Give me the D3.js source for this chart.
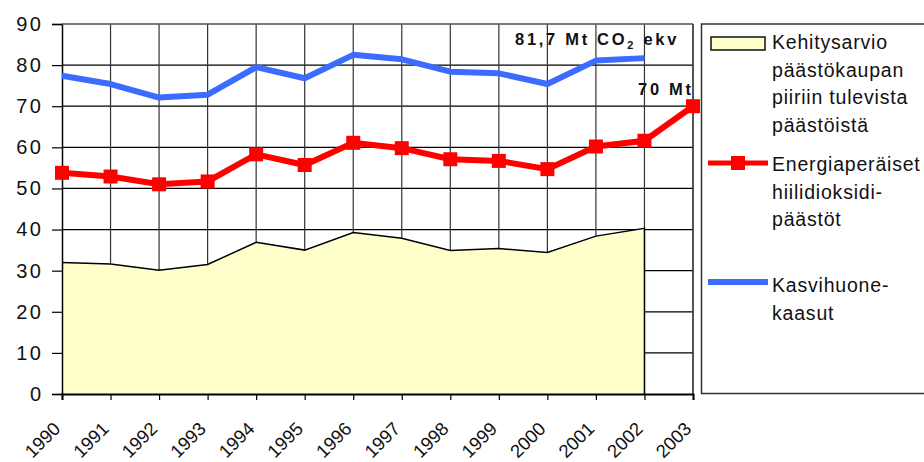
<!DOCTYPE html>
<html>
<head>
<meta charset="utf-8">
<script src="https://cdn.jsdelivr.net/npm/d3@7"></script>
<style>
  body { margin: 0; background: #fff; }
  svg { display: block; font-family: "Liberation Sans", Arial, sans-serif; }
</style>
</head>
<body>
<div id="chart"></div>
<script>
var years = [1990, 1991, 1992, 1993, 1994, 1995, 1996, 1997, 1998, 1999, 2000, 2001, 2002, 2003];
// emission trading scope estimate (area), 1990-2002
var kehitys = [32.0, 31.6, 30.1, 31.5, 36.9, 35.0, 39.3, 37.9, 34.9, 35.4, 34.4, 38.4, 40.3];
// energy CO2 (red, with markers), 1990-2003
var energia = [53.8, 52.9, 51.0, 51.7, 58.3, 55.7, 61.1, 59.8, 57.1, 56.7, 54.7, 60.2, 61.6, 70];
// greenhouse gases (blue), 1990-2002
var kasvihuone = [77.4, 75.4, 72.1, 72.8, 79.5, 76.8, 82.5, 81.4, 78.4, 78.0, 75.4, 81.1, 81.7];
var yTicks = [0, 10, 20, 30, 40, 50, 60, 70, 80, 90];

var W = 924, H = 462;
var plotL = 62, plotR = 693, plotT = 24, plotB = 394;

var svg = d3.select("#chart").append("svg")
    .attr("width", W)
    .attr("height", H);

var x = d3.scaleLinear().domain([1990, 2003]).range([plotL, plotR]);
var y = d3.scaleLinear().domain([0, 90]).range([plotB, plotT]);

// gridlines
svg.append("g").selectAll("line")
    .data(yTicks.slice(1))
    .enter().append("line")
    .attr("x1", plotL).attr("x2", plotR)
    .attr("y1", function(d) { return y(d); })
    .attr("y2", function(d) { return y(d); })
    .attr("stroke", "#000").attr("stroke-width", 1.2);

svg.append("g").selectAll("line")
    .data(years.slice(1))
    .enter().append("line")
    .attr("x1", function(d) { return x(d); })
    .attr("x2", function(d) { return x(d); })
    .attr("y1", plotT).attr("y2", plotB)
    .attr("stroke", "#333").attr("stroke-width", 1.2);

// area
var areaData = kehitys.map(function(v, i) { return [years[i], v]; });
svg.append("path")
    .datum(areaData)
    .attr("fill", "#ffffcc")
    .attr("d", d3.area()
        .x(function(d) { return x(d[0]); })
        .y0(y(0))
        .y1(function(d) { return y(d[1]); }));

svg.append("path")
    .datum(areaData)
    .attr("fill", "none")
    .attr("stroke", "#000")
    .attr("stroke-width", 1.5)
    .attr("d", function(d) {
        var last = d[d.length - 1];
        return d3.line()
            .x(function(p) { return x(p[0]); })
            .y(function(p) { return y(p[1]); })(d) +
            "L" + x(last[0]) + "," + y(0);
    });

// axes
var yAxis = svg.append("g")
    .attr("transform", "translate(" + plotL + ",0)")
    .call(d3.axisLeft(y).tickValues(yTicks).tickSize(10).tickPadding(8.5));
yAxis.select(".domain").attr("stroke", "#000").attr("stroke-width", 1.5);
yAxis.selectAll(".tick line").attr("stroke", "#000").attr("stroke-width", 1.2);
yAxis.selectAll("text").attr("font-size", 20).attr("fill", "#111")
    .attr("letter-spacing", 2.5)
    .attr("font-family", "Liberation Sans, Arial, sans-serif");

var xAxis = svg.append("g")
    .attr("transform", "translate(0," + plotB + ")")
    .call(d3.axisBottom(x).tickValues(years).tickSize(6).tickFormat(d3.format("d")));
xAxis.select(".domain").attr("stroke", "#000").attr("stroke-width", 2);
xAxis.selectAll(".tick line").attr("stroke", "#000").attr("stroke-width", 1.2);
xAxis.selectAll("text")
    .attr("font-size", 18.5).attr("fill", "#111")
    .attr("font-family", "Liberation Sans, Arial, sans-serif")
    .attr("text-anchor", "end")
    .attr("dy", 0)
    .attr("y", 0)
    .attr("transform", "translate(-1,36) rotate(-45)");

// plot top and right border
svg.append("line")
    .attr("x1", plotL).attr("x2", plotR)
    .attr("y1", plotT).attr("y2", plotT)
    .attr("stroke", "#777").attr("stroke-width", 1.2);
svg.append("line")
    .attr("x1", plotR).attr("x2", plotR)
    .attr("y1", plotT).attr("y2", plotB)
    .attr("stroke", "#333").attr("stroke-width", 1.2);

// lines
var line = d3.line()
    .x(function(d, i) { return x(years[i]); })
    .y(function(d) { return y(d); });

svg.append("path")
    .datum(kasvihuone)
    .attr("fill", "none")
    .attr("stroke", "#3c6bff")
    .attr("stroke-width", 6)
    .attr("stroke-linejoin", "round")
    .attr("d", line);

svg.append("path")
    .datum(energia)
    .attr("fill", "none")
    .attr("stroke", "#ff0000")
    .attr("stroke-width", 6)
    .attr("d", line);

svg.append("g").selectAll("rect")
    .data(energia)
    .enter().append("rect")
    .attr("x", function(d, i) { return x(years[i]) - 7; })
    .attr("y", function(d) { return y(d) - 7; })
    .attr("width", 14).attr("height", 14)
    .attr("fill", "#ff0000");

// annotations
var ann = svg.append("text")
    .attr("x", 515).attr("y", 45)
    .attr("font-size", 16.5).attr("font-weight", "bold")
    .attr("letter-spacing", 2.7).attr("fill", "#111");
ann.append("tspan").text("81,7 Mt CO");
ann.append("tspan").attr("font-size", 11).attr("dy", 4).text("2");
ann.append("tspan").attr("dy", -4).text(" ekv");

svg.append("text")
    .attr("x", 638).attr("y", 95)
    .attr("font-size", 16.5).attr("font-weight", "bold")
    .attr("letter-spacing", 2.7).attr("fill", "#111")
    .text("70 Mt");

// legend
var lg = svg.append("g");
lg.append("rect")
    .attr("x", 701.5).attr("y", 24)
    .attr("width", 240).attr("height", 369.5)
    .attr("fill", "#fff").attr("stroke", "#333").attr("stroke-width", 1.5);

lg.append("rect")
    .attr("x", 711).attr("y", 37)
    .attr("width", 54).attr("height", 13)
    .attr("fill", "#ffffcc").attr("stroke", "#111").attr("stroke-width", 1.5);

lg.append("line")
    .attr("x1", 708).attr("x2", 768).attr("y1", 163).attr("y2", 163)
    .attr("stroke", "#ff0000").attr("stroke-width", 5);
lg.append("rect")
    .attr("x", 731).attr("y", 156).attr("width", 14).attr("height", 14)
    .attr("fill", "#ff0000");

lg.append("line")
    .attr("x1", 708).attr("x2", 768).attr("y1", 282).attr("y2", 282)
    .attr("stroke", "#3c6bff").attr("stroke-width", 6);

var legendText = [
    {y: 49, lines: ["Kehitysarvio", "päästökaupan", "piiriin tulevista", "päästöistä"]},
    {y: 171, lines: ["Energiaperäiset", "hiilidioksidi-", "päästöt"]},
    {y: 292, lines: ["Kasvihuone-", "kaasut"]}
];
legendText.forEach(function(item) {
    var t = lg.append("text")
        .attr("x", 772).attr("y", item.y)
        .attr("font-size", 19.5).attr("letter-spacing", 0.8).attr("fill", "#111");
    item.lines.forEach(function(s, i) {
        t.append("tspan").attr("x", 772).attr("dy", i === 0 ? 0 : 27.5).text(s);
    });
});
</script>
</body>
</html>
